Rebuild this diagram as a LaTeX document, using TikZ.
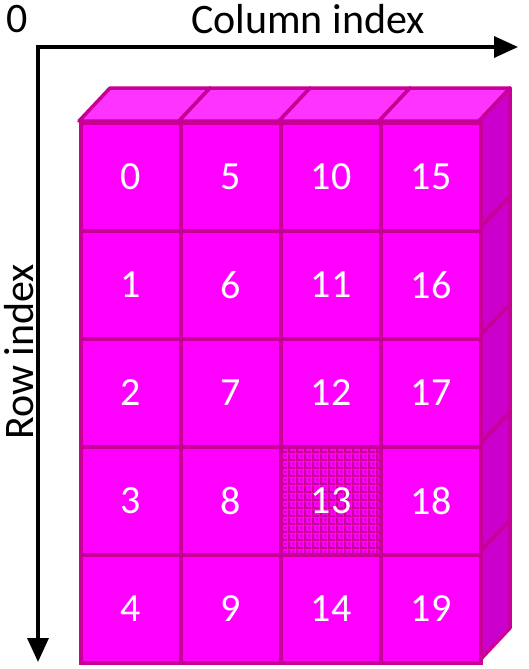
\documentclass[tikz,border=0pt]{standalone}
\usepackage{fontspec}
\setmainfont{Carlito}
\usetikzlibrary{arrows.meta,patterns.meta}
\definecolor{front}{RGB}{255,0,255}
\definecolor{topc}{RGB}{255,51,255}
\definecolor{side}{RGB}{204,0,204}
\definecolor{edge}{RGB}{200,0,150}
\tikzdeclarepattern{name=grid13,type=uncolored,bounding box={(0,0) and (8pt,8pt)},tile size={(8pt,8pt)},
  code={\pgfpathrectangle{\pgfpoint{0pt}{0pt}}{\pgfpoint{8pt}{2.5pt}}\pgfusepath{fill}
        \pgfpathrectangle{\pgfpoint{0pt}{0pt}}{\pgfpoint{2.5pt}{8pt}}\pgfusepath{fill}
        \pgfpathrectangle{\pgfpoint{5pt}{5pt}}{\pgfpoint{1.5pt}{1.5pt}}\pgfusepath{fill}}}
\tikzset{
  cell/.style={draw=edge,line width=4pt,fill=front,minimum width=100pt,minimum height=108pt,inner sep=0pt,anchor=north west,text=white,font=\fontsize{40}{48}\selectfont},
  face/.style={draw=edge,line width=3.5pt,line join=round},
  axis/.style={line width=3.5pt,-{Triangle[length=24pt,width=21pt]}},
  lbl/.style={font=\fontsize{42}{50}\selectfont,inner sep=0pt}
}
\begin{document}
\begin{tikzpicture}[x=1pt,y=-1pt]
\useasboundingbox (0,0) rectangle (528,669);
% top faces
\foreach \c in {0,...,3}{
  \pgfmathsetmacro{\xa}{79+100*\c}
  \draw[face,fill=topc] (\xa,121) -- ++(31,-33) -- ++(100,0) -- ++(-31,33) -- cycle;
}
% right faces
\foreach \r in {0,...,4}{
  \pgfmathsetmacro{\ya}{121+108*\r}
  \draw[face,fill=side] (479,\ya) -- ++(31,-33) -- ++(0,108) -- ++(-31,33) -- cycle;
}
% front cells
\foreach \c in {0,...,3}{
  \foreach \r in {0,...,4}{
    \pgfmathtruncatemacro{\n}{5*\c+\r}
    \ifnum\n=13
      \node[cell,postaction={pattern={grid13},pattern color=edge}] (c\c\r) at ({79+100*\c},{121+108*\r}) {};
      \node[text=white,font=\fontsize{40}{48}\selectfont] (t\c\r) at (c\c\r.center) {\n};
    \else
      \node[cell] (c\c\r) at ({79+100*\c},{121+108*\r}) {\n};
    \fi
  }
}
% axes
\coordinate (O) at (38,47);
\coordinate (X) at (518,47);
\coordinate (Y) at (38,662);
\draw[axis] ([xshift=-1.75pt]O) -- (X);
\draw[axis] ([yshift=-1.75pt]O) -- (Y);
\node[lbl] (zero) at (17,19) {0};
\node[lbl] (col) at (308,19) {Column index};
\node[lbl,rotate=90] (row) at (19,352) {Row index};
\end{tikzpicture}
\end{document}
